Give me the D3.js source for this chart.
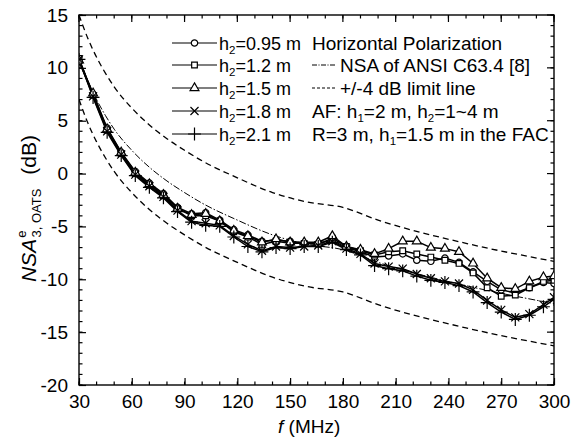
<!DOCTYPE html>
<html><head><meta charset="utf-8">
<script src="https://cdn.jsdelivr.net/npm/d3@7"></script>
<style>
body{margin:0;background:#fff}
text{font-family:"Liberation Sans",Arial,Helvetica,sans-serif;fill:#000}
</style>
</head><body>
<svg id="chart" width="580" height="443"></svg>
<script>
// ---------------- data ----------------
const freqs = [30,38,46,54,62,70,78,86,94,102,110,118,126,134,142,150,158,166,174,182,190,198,206,214,222,230,238,246,254,262,270,278,286,294,300];
const h095 = [10.6,7.5,4.3,2.0,0.2,-0.9,-1.9,-3.2,-3.8,-3.7,-4.4,-5.3,-5.8,-6.4,-6.3,-6.4,-6.6,-6.6,-6.3,-7.0,-7.4,-7.9,-7.8,-7.6,-8.2,-8.3,-8.0,-8.4,-9.3,-10.2,-11.0,-11.3,-10.8,-10.3,-10.4];
const h12  = [10.9,7.4,4.1,1.9,0.0,-1.1,-2.1,-3.3,-4.0,-4.0,-4.5,-5.5,-6.0,-6.7,-6.4,-6.6,-6.6,-6.7,-6.1,-6.9,-7.3,-7.7,-7.4,-7.3,-7.6,-7.9,-8.2,-8.5,-9.4,-10.8,-11.6,-11.5,-10.8,-10.2,-10.1];
const h15  = [10.7,7.6,4.2,2.0,0.1,-1.0,-2.0,-3.3,-3.9,-3.8,-4.5,-5.4,-5.9,-6.5,-6.2,-6.5,-6.5,-6.5,-5.9,-6.9,-7.2,-7.6,-7.1,-6.4,-6.4,-7.0,-7.1,-7.4,-8.5,-9.9,-10.8,-10.9,-10.2,-9.8,-9.7];
const h18  = [10.8,7.3,4.0,1.8,-0.1,-1.2,-2.2,-3.5,-4.5,-4.7,-4.9,-5.9,-6.7,-7.3,-6.9,-7.0,-6.9,-6.8,-6.4,-7.1,-7.6,-8.5,-8.8,-9.0,-9.5,-9.9,-10.2,-10.4,-11.0,-12.0,-12.9,-13.6,-13.3,-12.4,-11.7];
const h21  = [10.8,7.2,3.9,1.7,-0.2,-1.3,-2.3,-3.6,-4.6,-4.9,-5.0,-6.0,-6.9,-7.4,-7.0,-7.1,-6.9,-6.9,-6.5,-7.2,-7.7,-8.7,-9.0,-9.2,-9.7,-10.1,-10.3,-10.6,-11.2,-12.2,-13.1,-13.8,-13.4,-12.6,-11.9];
const seriesLabels = ["0.95 m","1.2 m","1.5 m","1.8 m","2.1 m"];
const seriesMarkers = ["circle","square","triangle","times","plus"];

const nsaFreqs   = [30,35,40,45,50,60,70,80,90,100,120,140,160,180,200,250,300];
const nsaValues  = [11.0,8.8,7.0,5.5,4.2,2.2,0.6,-0.7,-1.8,-2.8,-4.4,-5.8,-6.7,-7.2,-8.4,-10.6,-12.3];
const upperLimit = [15.0,12.8,11.0,9.5,8.2,6.2,4.6,3.3,2.2,1.2,-0.4,-1.8,-2.7,-3.2,-4.4,-6.6,-8.3];
const lowerLimit = [7.0,4.8,3.0,1.5,0.2,-1.8,-3.4,-4.7,-5.8,-6.8,-8.4,-9.8,-10.7,-11.2,-12.4,-14.6,-16.3];

const xTicks = [30,60,90,120,150,180,210,240,270,300];
const yTicks = [15,10,5,0,-5,-10,-15,-20];
const noteTexts = ["Horizontal Polarization","NSA of ANSI C63.4 [8]","+/-4 dB limit line"];

// ---------------- chart ----------------
const svg = d3.select("#chart");
const L = 79, R = 554, T = 15, B = 385;
const x = d3.scaleLinear().domain([30,300]).range([L,R]);
const y = d3.scaleLinear().domain([-20,15]).range([B,T]);

const xMinor = d3.range(30,301,10);
const yMinor = d3.range(-20,16,1);

// minor ticks (inward, all four sides)
const gAx = svg.append("g").attr("stroke","#000").attr("stroke-width",1.2);
xMinor.forEach(v=>{
  gAx.append("line").attr("x1",x(v)).attr("x2",x(v)).attr("y1",B).attr("y2",B-3.5);
  gAx.append("line").attr("x1",x(v)).attr("x2",x(v)).attr("y1",T).attr("y2",T+3.5);
});
yMinor.forEach(v=>{
  gAx.append("line").attr("y1",y(v)).attr("y2",y(v)).attr("x1",L).attr("x2",L+3.5);
  gAx.append("line").attr("y1",y(v)).attr("y2",y(v)).attr("x1",R).attr("x2",R-3.5);
});

// main axes with labels
const xAxis = d3.axisBottom(x).tickValues(xTicks).tickSize(-7).tickPadding(10).tickFormat(d=>String(d));
const yAxis = d3.axisLeft(y).tickValues(yTicks).tickSize(-7).tickPadding(11).tickFormat(d=>String(d));
const gx = svg.append("g").attr("transform",`translate(0,${B})`).call(xAxis);
const gy = svg.append("g").attr("transform",`translate(${L},0)`).call(yAxis);
[gx,gy].forEach(g=>{
  g.select(".domain").remove();
  g.selectAll(".tick line").attr("stroke","#000").attr("stroke-width",1.2);
  g.selectAll(".tick text").attr("font-size",19).attr("font-family","'Liberation Sans',Arial,sans-serif").attr("fill","#000");
});
// mirrored major ticks top/right
xTicks.forEach(v=>gAx.append("line").attr("x1",x(v)).attr("x2",x(v)).attr("y1",T).attr("y2",T+7));
yTicks.forEach(v=>gAx.append("line").attr("y1",y(v)).attr("y2",y(v)).attr("x1",R).attr("x2",R-7));

// frame
svg.append("rect").attr("x",L).attr("y",T).attr("width",R-L).attr("height",B-T)
  .attr("fill","none").attr("stroke","#000").attr("stroke-width",1.4);

// reference lines
const refLine = d3.line().x(d=>x(d[0])).y(d=>y(d[1])).curve(d3.curveMonotoneX);
svg.append("clipPath").attr("id","clip").append("rect")
  .attr("x",L).attr("y",T).attr("width",R-L).attr("height",B-T);
const gRef = svg.append("g").attr("clip-path","url(#clip)").attr("fill","none").attr("stroke","#000");
gRef.append("path").datum(nsaFreqs.map((f,i)=>[f,nsaValues[i]])).attr("d",refLine)
  .attr("stroke-width",1).attr("stroke-dasharray","7,2,1.5,2");
gRef.append("path").datum(nsaFreqs.map((f,i)=>[f,upperLimit[i]])).attr("d",refLine)
  .attr("stroke-width",1.3).attr("stroke-dasharray","6,4");
gRef.append("path").datum(nsaFreqs.map((f,i)=>[f,lowerLimit[i]])).attr("d",refLine)
  .attr("stroke-width",1.3).attr("stroke-dasharray","6,4");

// measured series
const allSeries = [h095,h12,h15,h18,h21];
const symType = {circle:d3.symbolCircle, square:d3.symbolSquare, triangle:d3.symbolTriangle,
  times:(d3.symbolTimes||d3.symbolX||d3.symbolCross), plus:(d3.symbolPlus||d3.symbolCross)};
const symSize = {circle:32, square:32, triangle:34, times:44, plus:56};
const dataLine = d3.line().x(d=>x(d[0])).y(d=>y(d[1]));
function drawMarker(g, type, px, py){
  const filled = (type==="circle"||type==="square"||type==="triangle");
  g.append("path").attr("d", d3.symbol().type(symType[type]).size(symSize[type])())
    .attr("transform",`translate(${px},${py})`)
    .attr("fill", filled ? "#fff" : "none")
    .attr("stroke","#000").attr("stroke-width",1.2);
}
const gData = svg.append("g").attr("clip-path","url(#clip)");
allSeries.forEach((vals,si)=>{
  const pts = freqs.map((f,i)=>[f,vals[i]]);
  gData.append("path").datum(pts).attr("d",dataLine)
    .attr("fill","none").attr("stroke","#000").attr("stroke-width",1.5);
});
allSeries.forEach((vals,si)=>{
  freqs.forEach((f,i)=>drawMarker(gData, seriesMarkers[si], x(f), y(vals[i])));
});

// legend
const gL = svg.append("g");
const rowY = [43,65,88,111,134];
const lx0 = 172, lx1 = 217, tx = 219, col2 = 312, FS = 19, FS1 = 18, SFS = 11.5;
seriesLabels.forEach((lab,i)=>{
  gL.append("line").attr("x1",lx0).attr("x2",lx1).attr("y1",rowY[i]).attr("y2",rowY[i])
    .attr("stroke","#000").attr("stroke-width",1.2);
  drawMarker(gL, seriesMarkers[i], (lx0+lx1)/2, rowY[i]);
  const t = gL.append("text").attr("x",tx).attr("y",rowY[i]+7).attr("font-size",FS1);
  t.append("tspan").text("h");
  t.append("tspan").attr("font-size",SFS).attr("dy",4).text("2");
  t.append("tspan").attr("dy",-4).text("=" + lab);
});
gL.append("text").attr("x",col2).attr("y",rowY[0]+7).attr("font-size",FS).text(noteTexts[0]);
gL.append("line").attr("x1",col2).attr("x2",335).attr("y1",rowY[1]).attr("y2",rowY[1])
  .attr("stroke","#000").attr("stroke-width",1).attr("stroke-dasharray","5,1.5,1,1.5");
gL.append("text").attr("x",340).attr("y",rowY[1]+7).attr("font-size",FS).text(noteTexts[1]);
gL.append("line").attr("x1",col2).attr("x2",335).attr("y1",rowY[2]).attr("y2",rowY[2])
  .attr("stroke","#000").attr("stroke-width",1.2).attr("stroke-dasharray","3,2");
gL.append("text").attr("x",340).attr("y",rowY[2]+7).attr("font-size",FS).text(noteTexts[2]);
{
  const t = gL.append("text").attr("x",col2).attr("y",rowY[3]+7).attr("font-size",FS);
  t.append("tspan").text("AF: h");
  t.append("tspan").attr("font-size",SFS).attr("dy",4).text("1");
  t.append("tspan").attr("dy",-4).text("=2 m, h");
  t.append("tspan").attr("font-size",SFS).attr("dy",4).text("2");
  t.append("tspan").attr("dy",-4).text("=1~4 m");
}
{
  const t = gL.append("text").attr("x",col2).attr("y",rowY[4]+7).attr("font-size",FS);
  t.append("tspan").text("R=3 m, h");
  t.append("tspan").attr("font-size",SFS).attr("dy",4).text("1");
  t.append("tspan").attr("dy",-4).text("=1.5 m in the FAC");
}

// axis titles
{
  const t = svg.append("text").attr("x",278).attr("y",433).attr("font-size",19);
  t.append("tspan").attr("font-style","italic").text("f");
  t.append("tspan").text(" (MHz)");
}
{
  const t = svg.append("text").attr("transform","translate(36,282) rotate(-90)").attr("font-size",21);
  t.append("tspan").attr("font-style","italic").text("NSA");
  t.append("tspan").attr("font-size",13).attr("dy",-10).attr("dx",1).text("e");
  t.append("tspan").attr("font-size",13).attr("dy",15).attr("dx",-7).text("3, OATS");
  t.append("tspan").attr("dy",-5).attr("dx",14).text("(dB)");
}
</script>
</body></html>
